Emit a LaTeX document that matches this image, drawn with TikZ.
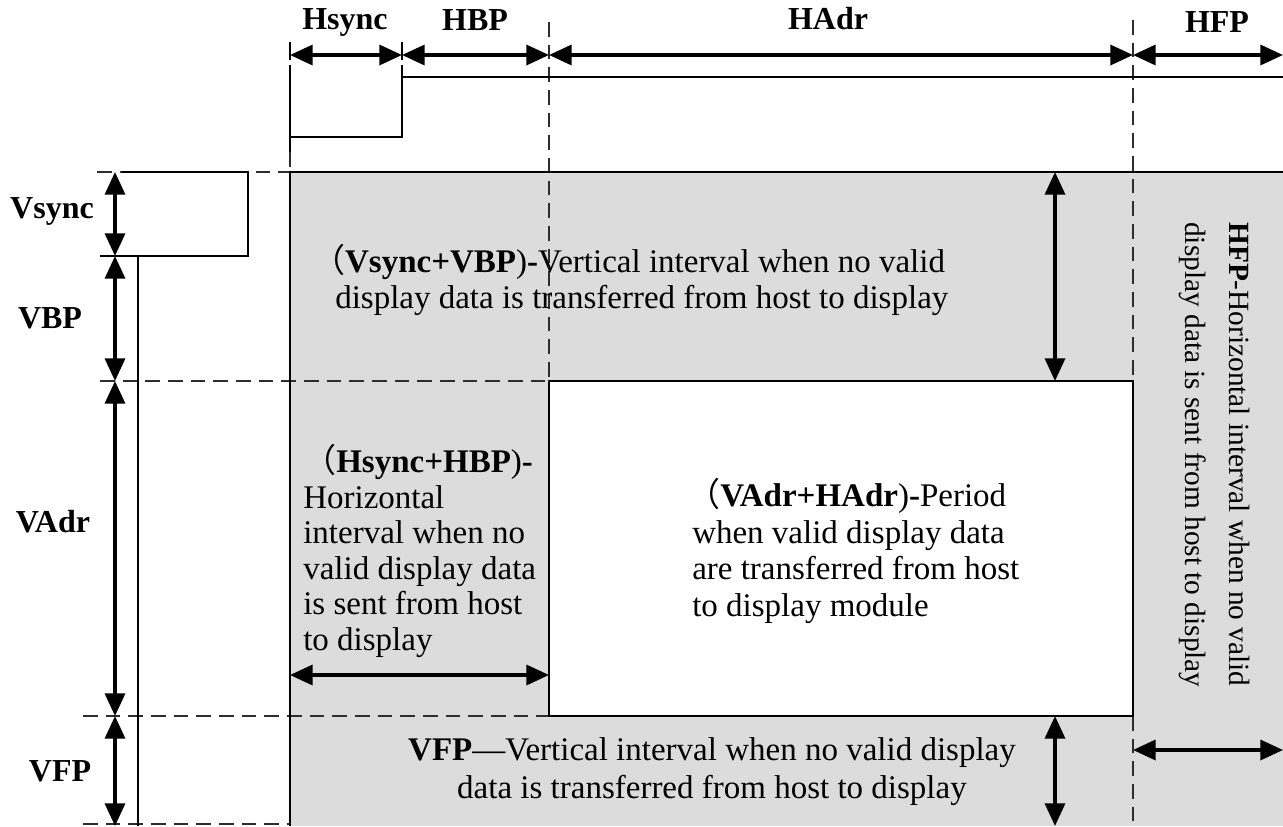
\documentclass[tikz,border=0pt]{standalone}
\usepackage{fontspec}
\setmainfont{Liberation Serif}
\newfontfamily\cjk{Noto Sans CJK SC}
\usetikzlibrary{arrows.meta}
\definecolor{panel}{RGB}{220,220,220}
\definecolor{dashgray}{RGB}{45,45,45}
\newcommand{\lpar}{{\cjk （}}
\begin{document}
\begin{tikzpicture}[x=0.75pt,y=0.75pt,
  thinline/.style={line width=1.7pt},
  dashline/.style={line width=1.7pt, dash pattern=on 11pt off 6pt, dashgray},
  dim/.style={line width=2.6pt, {Triangle[length=17pt,width=15pt]}-{Triangle[length=17pt,width=15pt]}},
  lbl/.style={font=\fontsize{24}{28}\selectfont\bfseries, inner sep=0pt},
  body/.style={font=\fontsize{24.75}{26.6}\selectfont, inner sep=0pt, align=left},
]
\useasboundingbox (0,0) rectangle (1283,-826);
% panels
\fill[panel] (290,-172) rectangle (1283,-826);
\fill[white] (549,-381) rectangle (1133,-716);
% dashed guide lines
\draw[dashline] (97,-172) -- (290,-172);
\draw[dashline] (100,-381) -- (549,-381);
\draw[dashline] (83,-716) -- (549,-716);
\draw[dashline] (83,-824) -- (290,-824);
\draw[dashline] (549,-22) -- (549,-381);
\draw[dashline] (1133,-20) -- (1133,-381);
\draw[dashline] (1133,-716) -- (1133,-826);
\draw[dashline] (290,-152) -- (290,-172);
% borders
\draw[thinline] (290,-826) -- (290,-172) -- (1283,-172);
\draw[thinline] (549,-381) rectangle (1133,-716);
% horizontal sync waveform
\draw[thinline] (290,-42) -- (290,-60);
\draw[thinline] (402,-42) -- (402,-60);
\draw[thinline] (290,-65) -- (290,-152);
\draw[thinline] (290,-137) -- (402,-137) -- (402,-65);
\draw[thinline] (402,-77) -- (1283,-77);
% vertical sync waveform
\draw[thinline] (122,-172) -- (248,-172) -- (248,-256) -- (100,-256);
\draw[thinline] (138,-256) -- (138,-826);
% dimension arrows, top
\draw[dim] (290,-55) -- (402,-55);
\draw[dim] (402,-55) -- (549,-55);
\draw[dim] (549,-55) -- (1133,-55);
\draw[dim] (1133,-55) -- (1283,-55);
% dimension arrows, left
\draw[dim] (115,-172) -- (115,-256);
\draw[dim] (115,-256) -- (115,-381);
\draw[dim] (115,-381) -- (115,-716);
\draw[dim] (115,-716) -- (115,-826);
% dimension arrows, inner
\draw[dim] (1055,-172) -- (1055,-381);
\draw[dim] (1055,-716) -- (1055,-826);
\draw[dim] (290,-675) -- (549,-675);
\draw[dim] (1133,-750) -- (1283,-750);
% labels
\node[lbl] (hsync) at (345,-22) {Hsync};
\node[lbl] (hbp) at (475,-20) {HBP};
\node[lbl] (hadr) at (828,-19) {HAdr};
\node[lbl] (hfp) at (1217,-22) {HFP};
\node[lbl] (vsync) at (52,-211) {Vsync};
\node[lbl] (vbp) at (50,-318) {VBP};
\node[lbl] (vadr) at (53,-522) {VAdr};
\node[lbl] (vfp) at (60,-771) {VFP};
% texts
\node[body, anchor=west] (vtxt) at (335,-280)
  {\hspace*{-0.7em}\lpar\textbf{Vsync+VBP})\textbf{-}Vertical interval when no valid\\display data is transferred from host to display};
\node[body, anchor=west] (htxt) at (303,-551)
  {\lpar\textbf{Hsync+HBP})\textbf{-}\\Horizontal\\interval when no\\valid display data\\is sent from host\\to display};
\node[body, anchor=west, font=\fontsize{24.75}{27.3}\selectfont] (atxt) at (692,-551)
  {\hspace*{-0.15em}\lpar\textbf{VAdr+HAdr})\textbf{-}Period\\when valid display data\\are transferred from host\\to display module};
\node[body, align=center, font=\fontsize{24.75}{28.5}\selectfont] (ftxt) at (712,-772)
  {\textbf{VFP}—Vertical interval when no valid display\\data is transferred from host to display};
\node[body, rotate=-90, anchor=west, font=\fontsize{22}{33}\selectfont] (rtxt) at (1215,-222)
  {\textbf{HFP}-Horizontal interval when no valid\\display data is sent from host to display};
\end{tikzpicture}
\end{document}
